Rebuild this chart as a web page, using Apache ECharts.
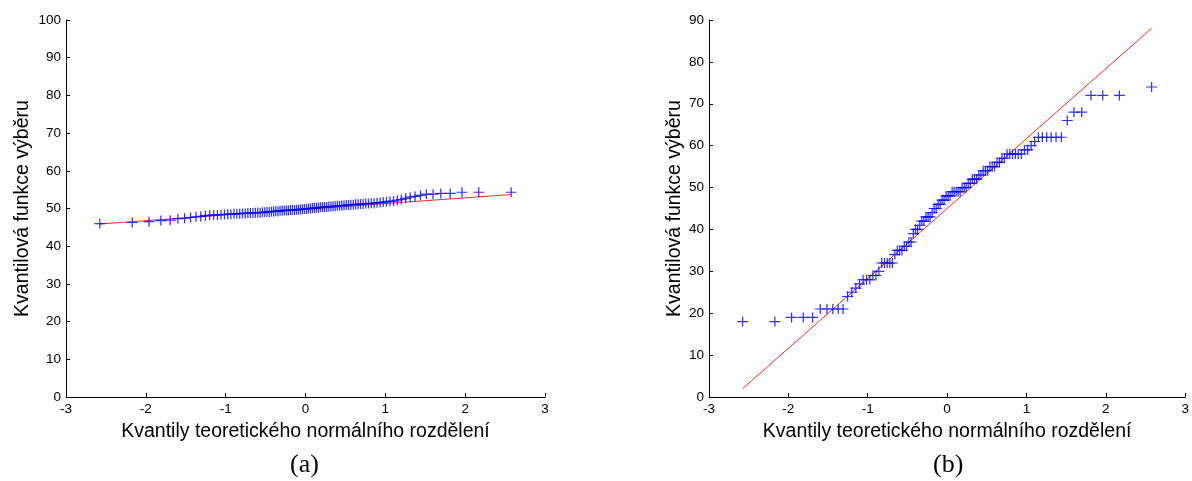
<!DOCTYPE html>
<html>
<head>
<meta charset="utf-8">
<script src="https://cdn.jsdelivr.net/npm/echarts@6/dist/echarts.min.js"></script>
<style>
html,body{margin:0;padding:0;background:#fff;}
#chart{width:1192px;height:481px;}
</style>
</head>
<body>
<div id="chart"></div>
<script>
// Theoretical normal quantiles (x positions, n = 100)
const xQuantiles = [
-2.576,-2.170,-1.960,-1.812,-1.695,-1.598,-1.514,-1.440,-1.372,-1.311,
-1.254,-1.200,-1.150,-1.103,-1.058,-1.015,-0.974,-0.935,-0.896,-0.860,
-0.824,-0.789,-0.755,-0.722,-0.690,-0.659,-0.628,-0.598,-0.568,-0.539,
-0.510,-0.482,-0.454,-0.426,-0.399,-0.372,-0.345,-0.319,-0.292,-0.266,
-0.240,-0.215,-0.189,-0.164,-0.138,-0.113,-0.088,-0.063,-0.038,-0.013,
0.013,0.038,0.063,0.088,0.113,0.138,0.164,0.189,0.215,0.240,
0.266,0.292,0.319,0.345,0.372,0.399,0.426,0.454,0.482,0.510,
0.539,0.568,0.598,0.628,0.659,0.690,0.722,0.755,0.789,0.824,
0.860,0.896,0.935,0.974,1.015,1.058,1.103,1.150,1.200,1.254,
1.311,1.372,1.440,1.514,1.598,1.695,1.812,1.960,2.170,2.576
];
// Sample quantiles, panel (a)
const sampleA = [
46.0,46.3,46.5,46.8,46.9,47.3,47.4,47.6,47.8,47.9,
48.1,48.2,48.3,48.3,48.4,48.4,48.5,48.5,48.6,48.6,
48.6,48.7,48.7,48.8,48.8,48.8,48.9,48.9,48.9,49.0,
49.0,49.1,49.1,49.2,49.2,49.3,49.3,49.4,49.4,49.5,
49.5,49.5,49.6,49.6,49.6,49.7,49.7,49.8,49.8,49.9,
49.9,50.0,50.0,50.1,50.1,50.2,50.2,50.3,50.3,50.4,
50.4,50.5,50.5,50.6,50.6,50.7,50.7,50.8,50.8,50.9,
50.9,51.0,51.0,51.1,51.1,51.2,51.2,51.3,51.3,51.4,
51.4,51.5,51.6,51.7,51.8,51.9,52.0,52.2,52.4,52.7,
53.0,53.2,53.5,53.8,53.8,54.0,54.0,54.3,54.3,54.3
];
// Sample quantiles, panel (b)
const sampleB = [
18,18,19,19,19,21,21,21,21,21,
24,25,26,27,28,28,28,29,29,30,
32,32,32,32,32,34,35,35,35,36,
36,37,37,39,40,40,41,42,42,43,
43,43,44,45,45,46,46,47,47,48,
48,48,49,49,49,49,49,50,50,50,
51,51,52,52,52,53,53,54,54,54,
55,55,55,56,56,57,57,58,58,58,
58,58,58,59,59,60,61,62,62,62,
62,62,62,66,68,68,72,72,72,74
];
// Reference line end points (x, y)
const refLineA = [[-2.576, 45.9], [2.576, 53.7]];
const refLineB = [[-2.576, 2.0], [2.576, 88.0]];

const yMaxA = 100, yMaxB = 90;
const xTitle = 'Kvantily teoretického normálního rozdělení';
const yTitle = 'Kvantilová funkce výběru';
const panelLabels = ['(a)', '(b)'];

const ptsA = xQuantiles.map((x, i) => [x, sampleA[i]]);
const ptsB = xQuantiles.map((x, i) => [x, sampleB[i]]);

const FONT = "'Liberation Sans', Arial, sans-serif";
const plus = 'path://M0,5L10,5M5,0L5,10';

function xAxisCfg(gi) {
  return {
    gridIndex: gi, type: 'value', min: -3, max: 3, interval: 1,
    name: xTitle, nameLocation: 'middle', nameGap: 25,
    nameTextStyle: {fontFamily: FONT, fontSize: 19.5, color: '#000'},
    axisLine: {show: true, onZero: false, lineStyle: {color: '#000', width: 1}},
    axisTick: {show: true, inside: true, length: 4, lineStyle: {color: '#000'}},
    axisLabel: {fontFamily: FONT, fontSize: 13.5, color: '#000', margin: 5},
    splitLine: {show: false}
  };
}
function yAxisCfg(gi, max, gap) {
  return {
    gridIndex: gi, type: 'value', min: 0, max: max, interval: 10,
    name: yTitle, nameLocation: 'middle', nameGap: gap,
    nameTextStyle: {fontFamily: FONT, fontSize: 19.5, color: '#000'},
    axisLine: {show: true, onZero: false, lineStyle: {color: '#000', width: 1}},
    axisTick: {show: true, inside: true, length: 4, lineStyle: {color: '#000'}},
    axisLabel: {fontFamily: FONT, fontSize: 13.5, color: '#000', margin: 5},
    splitLine: {show: false}
  };
}
function scatterCfg(gi, data) {
  return {
    type: 'scatter', xAxisIndex: gi, yAxisIndex: gi, data: data,
    symbol: plus, symbolSize: [11, 10], z: 3,
    itemStyle: {color: 'rgba(0,0,0,0)', borderColor: '#0000ff', borderWidth: 1.2},
    emphasis: {disabled: true}, animation: false
  };
}
function lineCfg(gi, data) {
  return {
    type: 'line', xAxisIndex: gi, yAxisIndex: gi, data: data,
    showSymbol: false, symbol: 'none', z: 2,
    lineStyle: {color: '#ff0000', width: 1, opacity: 0.85},
    animation: false
  };
}

const chart = echarts.init(document.getElementById('chart'), null, {renderer: 'canvas'});
chart.setOption({
  backgroundColor: '#fff',
  animation: false,
  grid: [
    {left: 66, top: 20, width: 479, height: 377},
    {left: 709, top: 20, width: 478, height: 377}
  ],
  xAxis: [xAxisCfg(0), xAxisCfg(1)],
  yAxis: [yAxisCfg(0, yMaxA, 33), yAxisCfg(1, yMaxB, 24)],
  series: [
    lineCfg(0, refLineA), scatterCfg(0, ptsA),
    lineCfg(1, refLineB), scatterCfg(1, ptsB)
  ],
  graphic: [
    {type: 'text', left: 305 - 15, top: 452, style: {text: panelLabels[0], font: "26px 'Liberation Serif', 'Times New Roman', serif", fill: '#000'}},
    {type: 'text', left: 948 - 15, top: 452, style: {text: panelLabels[1], font: "26px 'Liberation Serif', 'Times New Roman', serif", fill: '#000'}}
  ]
});
</script>
</body>
</html>
